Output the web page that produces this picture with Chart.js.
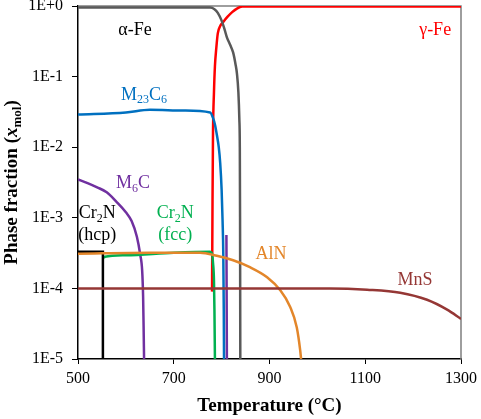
<!DOCTYPE html>
<html>
<head>
<meta charset="utf-8">
<script src="https://cdn.jsdelivr.net/npm/chart.js@4.4.1/dist/chart.umd.min.js"></script>
<style>
  html, body { margin: 0; padding: 0; background: #fff; }
  #wrap { width: 481px; height: 419px; position: relative; }
</style>
</head>
<body>
<div id="wrap"><canvas id="phaseChart"></canvas></div>
<script>
// Phase fractions (mol) vs temperature
const alphaT = [500, 776, 785, 792, 800, 806, 811, 818, 824, 829, 832, 835, 837, 838, 838.5, 839];
const alphaV = [0.95, 0.95, 0.9, 0.8, 0.62, 0.47, 0.36, 0.28, 0.22, 0.15, 0.11, 0.06, 0.025, 0.01, 0.001, 0.00001];

const gammaT = [780, 780.5, 781, 782, 784, 786, 789, 792, 797, 803, 812, 822, 832, 843, 1300];
const gammaV = [0.00009, 0.0004, 0.0018, 0.016, 0.06, 0.14, 0.26, 0.41, 0.52, 0.59, 0.70, 0.82, 0.92, 0.98, 0.98];

const m23c6T = [500, 600, 650, 720, 776, 782, 786, 790, 794, 797, 800, 802, 803.5, 804.5, 805];
const m23c6V = [0.029, 0.031, 0.034, 0.033, 0.031, 0.026, 0.021, 0.015, 0.01, 0.006, 0.0025, 0.0009, 0.0003, 0.00005, 0.00001];

const m6cT = [500, 520, 540, 560, 580, 600, 612, 623, 630, 634, 636, 637, 638, null, 810, 811];
const m6cV = [0.0035, 0.0031, 0.0027, 0.0023, 0.0017, 0.0012, 0.0009, 0.00054, 0.0003, 0.00018, 0.000076, 0.00003, 0.00001, null, 0.00057, 0.00001];

const cr2nFccT = [554, 556, 600, 700, 776, 780, 782, 784, 785, 786];
const cr2nFccV = [0.00027, 0.00028, 0.000295, 0.00032, 0.00033, 0.00031, 0.00023, 0.00013, 0.00005, 0.00001];

const cr2nHcpT = [500, 552, 552];
const cr2nHcpV = [0.00033, 0.00033, 0.00001];

const alnT = [500, 650, 755, 790, 824, 859, 895, 922, 943, 957, 964, 966];
const alnV = [0.00031, 0.00032, 0.00032, 0.00029, 0.00025, 0.0002, 0.000144, 0.000095, 0.000055, 0.000028, 0.0000135, 0.00001];

const mnsT = [500, 800, 1026, 1104, 1173, 1229, 1271, 1300];
const mnsV = [0.0001, 0.0001, 0.0001, 0.000096, 0.000087, 0.000069, 0.00005, 0.000037];

const xTicks = [500, 700, 900, 1100, 1300];
const yTicks = [1e-5, 1e-4, 1e-3, 1e-2, 1e-1, 1];

function pts(ts, vs) {
    return ts.map((t, i) => ({ x: t, y: vs[i] }));
}

function series(label, ts, vs, color, smooth) {
    return {
        label: label,
        data: pts(ts, vs),
        borderColor: color,
        backgroundColor: color,
        borderWidth: 2.5,
        pointRadius: 0,
        tension: smooth ? 0.4 : 0,
        cubicInterpolationMode: smooth ? 'monotone' : 'default',
        spanGaps: false
    };
}

const SERIF = "'Liberation Serif', 'Times New Roman', serif";

// text labels on the plot, with subscripts: [text, isSub]
const plotLabels = [
    { x: 619, y: 0.46, color: '#000', parts: [['α-Fe', 0]] },
    { x: 1246, y: 0.46, color: '#ff0000', parts: [['γ-Fe', 0]] },
    { x: 638, y: 0.055, color: '#0070c0', parts: [['M', 0], ['23', 1], ['C', 0], ['6', 1]] },
    { x: 615, y: 0.0031, color: '#7030a0', parts: [['M', 0], ['6', 1], ['C', 0]] },
    { x: 540, y: 0.00117, color: '#000', parts: [['Cr', 0], ['2', 1], ['N', 0]] },
    { x: 540, y: 0.00057, color: '#000', parts: [['(hcp)', 0]] },
    { x: 703, y: 0.00117, color: '#00b050', parts: [['Cr', 0], ['2', 1], ['N', 0]] },
    { x: 703, y: 0.00057, color: '#00b050', parts: [['(fcc)', 0]] },
    { x: 903, y: 0.0003, color: '#e3862a', parts: [['AlN', 0]] },
    { x: 1204, y: 0.000131, color: '#953735', parts: [['MnS', 0]] }
];

function drawRich(ctx, parts, cx, cy, color, size) {
    const subSize = Math.round(size * 0.68);
    let total = 0;
    parts.forEach(p => {
        ctx.font = (p[1] ? subSize : size) + 'px ' + SERIF;
        total += ctx.measureText(p[0]).width;
    });
    let x = cx - total / 2;
    ctx.fillStyle = color;
    ctx.textBaseline = 'middle';
    ctx.textAlign = 'left';
    parts.forEach(p => {
        ctx.font = (p[1] ? subSize : size) + 'px ' + SERIF;
        ctx.fillText(p[0], x, p[1] ? cy + size * 0.3 : cy);
        x += ctx.measureText(p[0]).width;
    });
}

const decorPlugin = {
    id: 'decor',
    beforeDatasetsDraw(chart) {
        const ctx = chart.ctx;
        const a = chart.chartArea;
        ctx.save();
        ctx.strokeStyle = '#7f7f7f';
        ctx.lineWidth = 1.5;
        ctx.beginPath();
        ctx.moveTo(a.left, a.top);
        ctx.lineTo(a.right, a.top);
        ctx.lineTo(a.right, a.bottom);
        ctx.stroke();
        ctx.restore();
    },
    afterDatasetsDraw(chart) {
        const ctx = chart.ctx;
        const xs = chart.scales.x, ys = chart.scales.y;
        ctx.save();
        plotLabels.forEach(l => {
            drawRich(ctx, l.parts, xs.getPixelForValue(l.x), ys.getPixelForValue(l.y), l.color, 18);
        });
        // y axis title with italic x and subscript
        const a = chart.chartArea;
        ctx.translate(12, (a.top + a.bottom) / 2);
        ctx.rotate(-Math.PI / 2);
        const segs = [
            ['Phase fraction (', 'bold 19px ', 0],
            ['x', 'bold italic 19px ', 0],
            ['mol', 'bold 13px ', 1],
            [')', 'bold 19px ', 0]
        ];
        let w = 0;
        segs.forEach(s => { ctx.font = s[1] + SERIF; w += ctx.measureText(s[0]).width; });
        let x = -w / 2;
        ctx.fillStyle = '#000';
        ctx.textBaseline = 'middle';
        segs.forEach(s => {
            ctx.font = s[1] + SERIF;
            ctx.fillText(s[0], x, s[2] ? 6 : 0);
            x += ctx.measureText(s[0]).width;
        });
        ctx.restore();
    }
};

new Chart(document.getElementById('phaseChart'), {
    type: 'line',
    data: {
        datasets: [
            series('MnS', mnsT, mnsV, '#953735', true),
            series('AlN', alnT, alnV, '#e3862a', true),
            series('Cr2N (hcp)', cr2nHcpT, cr2nHcpV, '#000000', false),
            series('Cr2N (fcc)', cr2nFccT, cr2nFccV, '#00b050', true),
            series('M6C', m6cT, m6cV, '#7030a0', true),
            series('M23C6', m23c6T, m23c6V, '#0070c0', true),
            series('alpha-Fe', alphaT, alphaV, '#595959', true),
            series('gamma-Fe', gammaT, gammaV, '#ff0000', true)
        ]
    },
    options: {
        responsive: true,
        maintainAspectRatio: false,
        animation: false,
        layout: { padding: { top: 6, right: 20, left: 0, bottom: 0 } },
        plugins: {
            legend: { display: false },
            tooltip: { enabled: false }
        },
        scales: {
            x: {
                type: 'linear',
                min: 500,
                max: 1300,
                afterBuildTicks: s => { s.ticks = xTicks.map(v => ({ value: v })); },
                grid: { drawOnChartArea: false, drawTicks: true, tickLength: 5, color: '#000' },
                border: { color: '#000', width: 1.5 },
                ticks: {
                    color: '#000',
                    padding: 5,
                    font: { family: SERIF, size: 16 },
                    callback: v => String(v)
                },
                title: {
                    display: true,
                    text: 'Temperature (°C)',
                    color: '#000',
                    padding: { top: 0, bottom: 2 },
                    font: { family: SERIF, size: 19, weight: 'bold' }
                },
                afterFit: s => { s.height = 60; s.paddingLeft = 0; s.paddingRight = 0; }
            },
            y: {
                type: 'logarithmic',
                min: 1e-5,
                max: 1,
                afterBuildTicks: s => { s.ticks = yTicks.map(v => ({ value: v })); },
                grid: { drawOnChartArea: false, drawTicks: true, tickLength: 6, color: '#000' },
                border: { color: '#000', width: 1.5 },
                ticks: {
                    color: '#000',
                    padding: 9,
                    font: { family: SERIF, size: 16 },
                    callback: v => {
                        const e = Math.round(Math.log10(v));
                        return '1E' + (e >= 0 ? '+' : '') + e;
                    }
                },
                afterFit: s => { s.width = 78; s.paddingTop = 0; s.paddingBottom = 0; }
            }
        }
    },
    plugins: [decorPlugin]
});
</script>
</body>
</html>
